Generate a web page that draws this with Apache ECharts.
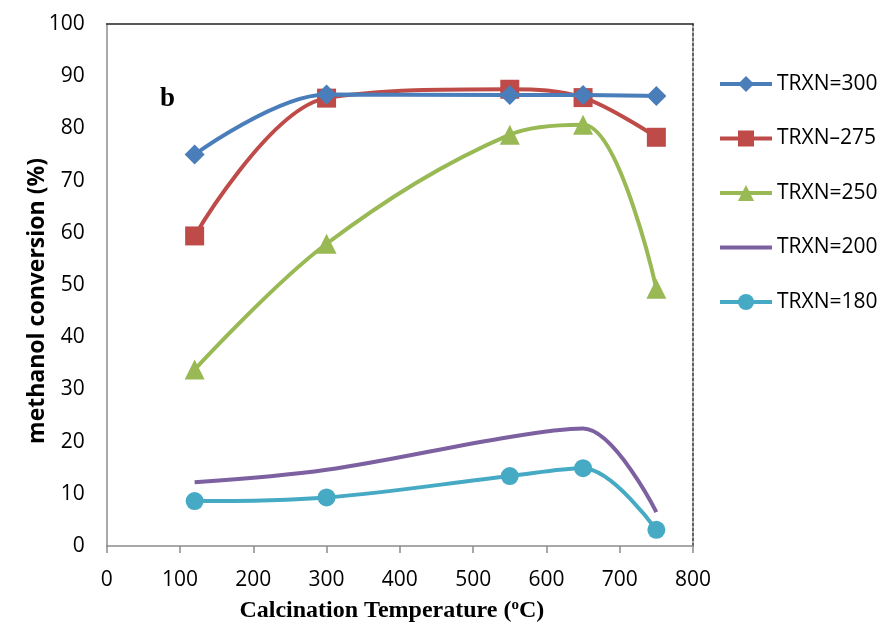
<!DOCTYPE html>
<html><head><meta charset="utf-8">
<script src="https://cdn.jsdelivr.net/npm/echarts@6/dist/echarts.min.js"></script>
<style>html,body{margin:0;padding:0;background:#fff}#c{width:882px;height:630px}</style>
</head><body><div id="c"></div>
<script>
const temps = [120, 300, 550, 650, 750];
const seriesNames = ['TRXN=300', 'TRXN\u2013275', 'TRXN=250', 'TRXN=200', 'TRXN=180'];
const trxn300 = [75, 86.5, 86.4, 86.4, 86.2];
const trxn275 = [59.4, 85.8, 87.5, 85.9, 78.3];
const trxn250 = [33.8, 57.9, 78.8, 80.7, 49.3];
const trxn200 = [12.2, 14.6, 20.9, 22.5, 6.5];
const trxn180 = [8.6, 9.3, 13.4, 14.9, 3.1];
const yTicks = [0, 10, 20, 30, 40, 50, 60, 70, 80, 90, 100];
const xTicks = [0, 100, 200, 300, 400, 500, 600, 700, 800];

const colors = ['#4A7EBB', '#BE4B48', '#98B954', '#7D60A0', '#46AAC5'];
const symbols = ['diamond', 'rect', 'triangle', 'none', 'circle'];
const sizes = [20, 19, 20, 0, 18];
const values = [trxn300, trxn275, trxn250, trxn200, trxn180];

const chart = echarts.init(document.getElementById('c'));
const series = values.map((vals, i) => ({
  name: seriesNames[i],
  type: 'line',
  xAxisIndex: 0, yAxisIndex: 0,
  data: temps.map((t, k) => [t, vals[k]]),
  smooth: 0.35,
  symbol: symbols[i],
  symbolSize: sizes[i],
  showSymbol: symbols[i] !== 'none',
  lineStyle: { color: colors[i], width: 4 },
  itemStyle: { color: colors[i] },
  z: 10 - i
}));

chart.setOption({
  animation: false,
  backgroundColor: '#fff',
  title: {
    text: 'b', left: 160, top: 86, padding: 0,
    textStyle: { fontFamily: 'Liberation Serif', fontWeight: 'bold', fontSize: 27, color: '#000' }
  },
  grid: { left: 106.7, right: 189, top: 24, bottom: 84 },
  legend: {
    orient: 'vertical', left: 718, top: 73, padding: 0,
    itemWidth: 52, itemHeight: 20, itemGap: 32.5,
    lineStyle: { width: 4 },
    data: seriesNames.map((n, i) => symbols[i] === 'none' ? { name: n, itemStyle: { opacity: 0 } } : { name: n }),
    textStyle: { fontFamily: 'Open Sans', fontSize: 21, color: '#000', lineHeight: 22 }
  },
  xAxis: [{
    type: 'value', min: xTicks[0], max: xTicks[xTicks.length - 1], interval: 100,
    name: '{a|Calcination Temperature (}{s|o}{a|C)}',
    nameLocation: 'middle', nameGap: 52,
    nameTextStyle: {
      padding: [0, 16, 0, 0],
      rich: {
        a: { fontFamily: 'Liberation Serif', fontWeight: 'bold', fontSize: 24, color: '#000' },
        s: { fontFamily: 'Liberation Serif', fontWeight: 'bold', fontSize: 15, color: '#000', verticalAlign: 'top', padding: [0, 0, 10, 0] }
      }
    },
    axisLine: { onZero: false, lineStyle: { color: '#8c8c8c', width: 1.5 } },
    axisTick: { show: true, length: 7, inside: false, lineStyle: { color: '#8c8c8c', width: 1.5 } },
    axisLabel: { fontFamily: 'Open Sans', fontSize: 21, color: '#000', margin: 24 },
    splitLine: { show: false }
  }, {
    type: 'value', position: 'top', min: 0, max: 800,
    axisLine: { show: true, onZero: false, lineStyle: { color: '#222', width: 1.5 } },
    axisTick: { show: false }, axisLabel: { show: false }, splitLine: { show: false }
  }],
  yAxis: [{
    type: 'value', min: yTicks[0], max: yTicks[yTicks.length - 1], interval: 10,
    name: 'methanol conversion (%)',
    nameLocation: 'middle', nameGap: 58, nameMoveOverlap: false,
    nameTextStyle: { fontFamily: 'Open Sans', fontWeight: 'bold', fontSize: 23, color: '#000', padding: [0, 32, 0, 0] },
    axisLine: { show: true, onZero: false, lineStyle: { color: '#8c8c8c', width: 1.5 } },
    axisTick: { show: false },
    axisLabel: { fontFamily: 'Open Sans', fontSize: 21, color: '#000', margin: 22 },
    splitLine: { show: false }
  }, {
    type: 'value', position: 'right', min: 0, max: 100,
    axisLine: { show: true, onZero: false, lineStyle: { color: '#333', width: 1.5, type: [3, 2] } },
    axisTick: { show: false }, axisLabel: { show: false }, splitLine: { show: false }
  }],
  series: series
});
</script>
</body></html>
